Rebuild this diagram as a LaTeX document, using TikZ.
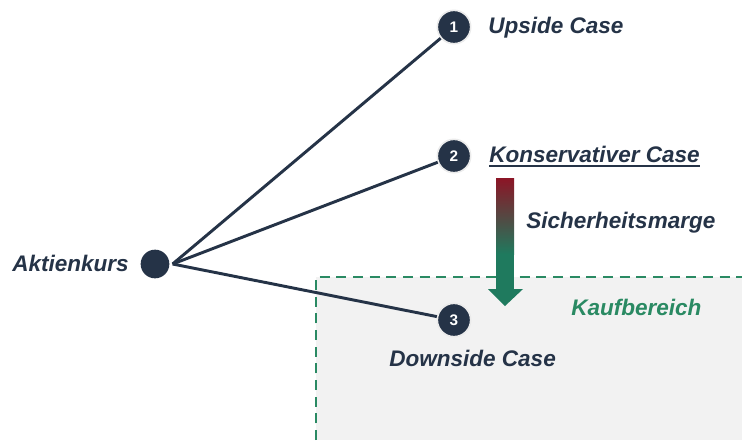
\documentclass[tikz,border=0pt]{standalone}
\usepackage{fontspec}
\setmainfont{Liberation Sans}
\usetikzlibrary{calc}
\definecolor{navy}{HTML}{253347}
\definecolor{mred}{HTML}{8C1526}
\definecolor{mgreen}{HTML}{1F7A5E}
\definecolor{kgreen}{HTML}{2A8A63}
\definecolor{boxgray}{HTML}{F2F2F2}
\begin{document}
\begin{tikzpicture}[x=0.75pt,y=-0.75pt,
  lbl/.style={anchor=base west,inner sep=0pt,text=navy,font=\fontsize{16.9}{20}\selectfont\bfseries\itshape},
  numc/.style={circle,fill=navy,draw=black!8,line width=1.2pt,minimum size=25pt,inner sep=0pt,text=white,font=\fontsize{11.5}{13}\selectfont\bfseries},
  dotc/.style={circle,fill=navy,minimum size=21.5pt,inner sep=0pt},
  conn/.style={draw=navy,line width=2.2pt}]
\useasboundingbox[fill=white] (0,0) rectangle (742,440);
% buying area
\fill[boxgray] (316,277) rectangle (742,440);
\draw[kgreen,line width=1.6pt,dash pattern=on 7.5pt off 5pt] (316,440) -- (316,277) -- (742,277);
% nodes
\node[dotc] (a) at (155,264) {};
\coordinate (ap) at ($(a.east)+(3,0)$);
\node[numc] (c1) at (454,27) {1};
\node[numc] (c2) at (454,156) {2};
\node[numc] (c3) at (454,320) {3};
\draw[conn] (ap) -- (c1);
\draw[conn] (ap) -- (c2);
\draw[conn] (ap) -- (c3);
% labels
\node[lbl] (ta) at (12,271) {Aktienkurs};
\node[lbl] (t1) at (488,33) {Upside Case};
\node[lbl] (t2) at (489,162) {Konservativer Case};
\draw[navy,line width=1.5pt] ($(t2.base west)+(0,3.5)$) -- ($(t2.base east)+(0,3.5)$);
\node[lbl] (t3) at (389,366) {Downside Case};
\node[lbl] (ts) at (526,228) {Sicherheitsmarge};
\node[lbl,text=kgreen] (tk) at (571,315) {Kaufbereich};
% margin arrow
\shade[top color=mred,bottom color=mgreen] (496,178) rectangle (514,254);
\fill[mgreen] (496,253.5) rectangle (514,290);
\fill[mgreen] (488,289) -- (523,289) -- (505,306) -- cycle;
\end{tikzpicture}
\end{document}
